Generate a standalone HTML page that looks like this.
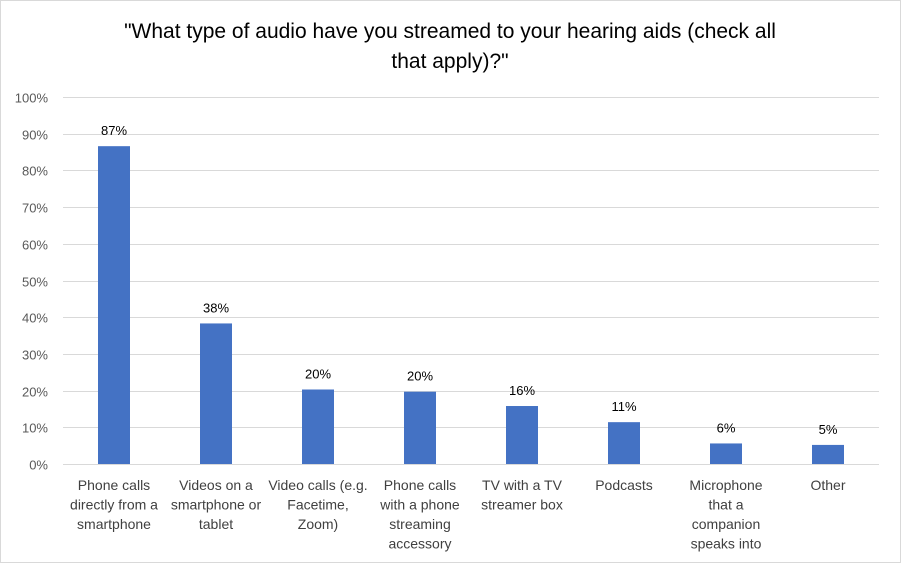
<!DOCTYPE html>
<html><head><meta charset="utf-8"><style>
html,body{margin:0;padding:0;background:#fff;}
body{width:902px;height:564px;overflow:hidden;font-family:"Liberation Sans",Arial,sans-serif;}
</style></head><body>
<svg id="chart" width="902" height="564" xmlns="http://www.w3.org/2000/svg">
<rect x="0.5" y="0.5" width="900" height="562" fill="#fff" stroke="#d9d9d9"/>
<text x="450" y="38" text-anchor="middle" font-size="21" fill="#000">"What type of audio have you streamed to your hearing aids (check all</text>
<text x="450" y="68" text-anchor="middle" font-size="21" fill="#000">that apply)?"</text>
<g id="grid"></g><g id="bars"></g><g id="labels"></g>
</svg>
<script>
const categories=[["Phone calls","directly from a","smartphone"],["Videos on a","smartphone or","tablet"],["Video calls (e.g.","Facetime,","Zoom)"],["Phone calls","with a phone","streaming","accessory"],["TV with a TV","streamer box"],["Podcasts"],["Microphone","that a","companion","speaks into"],["Other"]];
const values=[86.6,38.3,20.3,19.7,15.8,11.4,5.6,5.2];
const valueLabels=["87%","38%","20%","20%","16%","11%","6%","5%"];
const ticks=[0,10,20,30,40,50,60,70,80,90,100];
const NS="http://www.w3.org/2000/svg";
const x0=63,x1=879,y0=464,y1=97;
const yScale=v=>y0-(v/100)*(y0-y1);
const band=(x1-x0)/categories.length;
const xCenter=i=>x0+band*(i+0.5);
function mk(tag,attrs,parent,txt){const e=document.createElementNS(NS,tag);for(const k in attrs)e.setAttribute(k,attrs[k]);if(txt!==undefined)e.textContent=txt;parent.appendChild(e);return e;}
const grid=document.getElementById('grid'),bars=document.getElementById('bars'),labels=document.getElementById('labels');
ticks.forEach(t=>{
 const y=Math.round(yScale(t))+0.5;
 const l=mk('line',{x1:x0,x2:x1,y1:y,y2:y,stroke:'#d9d9d9','stroke-width':1},grid);
 
 
 const tx=mk('text',{x:48,y:y+5,'text-anchor':'end','font-size':13,fill:'#595959'},grid,t+'%');
 
 
});
const bw=32;
values.forEach((v,i)=>{
 const cx=xCenter(i),y=yScale(v);
 const r=mk('rect',{x:cx-bw/2,y:y,width:bw,height:y0-y,fill:'#4472c4'},bars);
 
 
 const t=mk('text',{x:cx,y:y-11,'text-anchor':'middle','font-size':13,fill:'#000'},labels,valueLabels[i]);
 
 
 const g=mk('text',{'text-anchor':'middle','font-size':14,fill:'#404040'},labels);
 
 
 categories[i].forEach((line,j)=>{mk('tspan',{x:cx,y:490+j*19.5},g,line);});
});
</script>
</body></html>
